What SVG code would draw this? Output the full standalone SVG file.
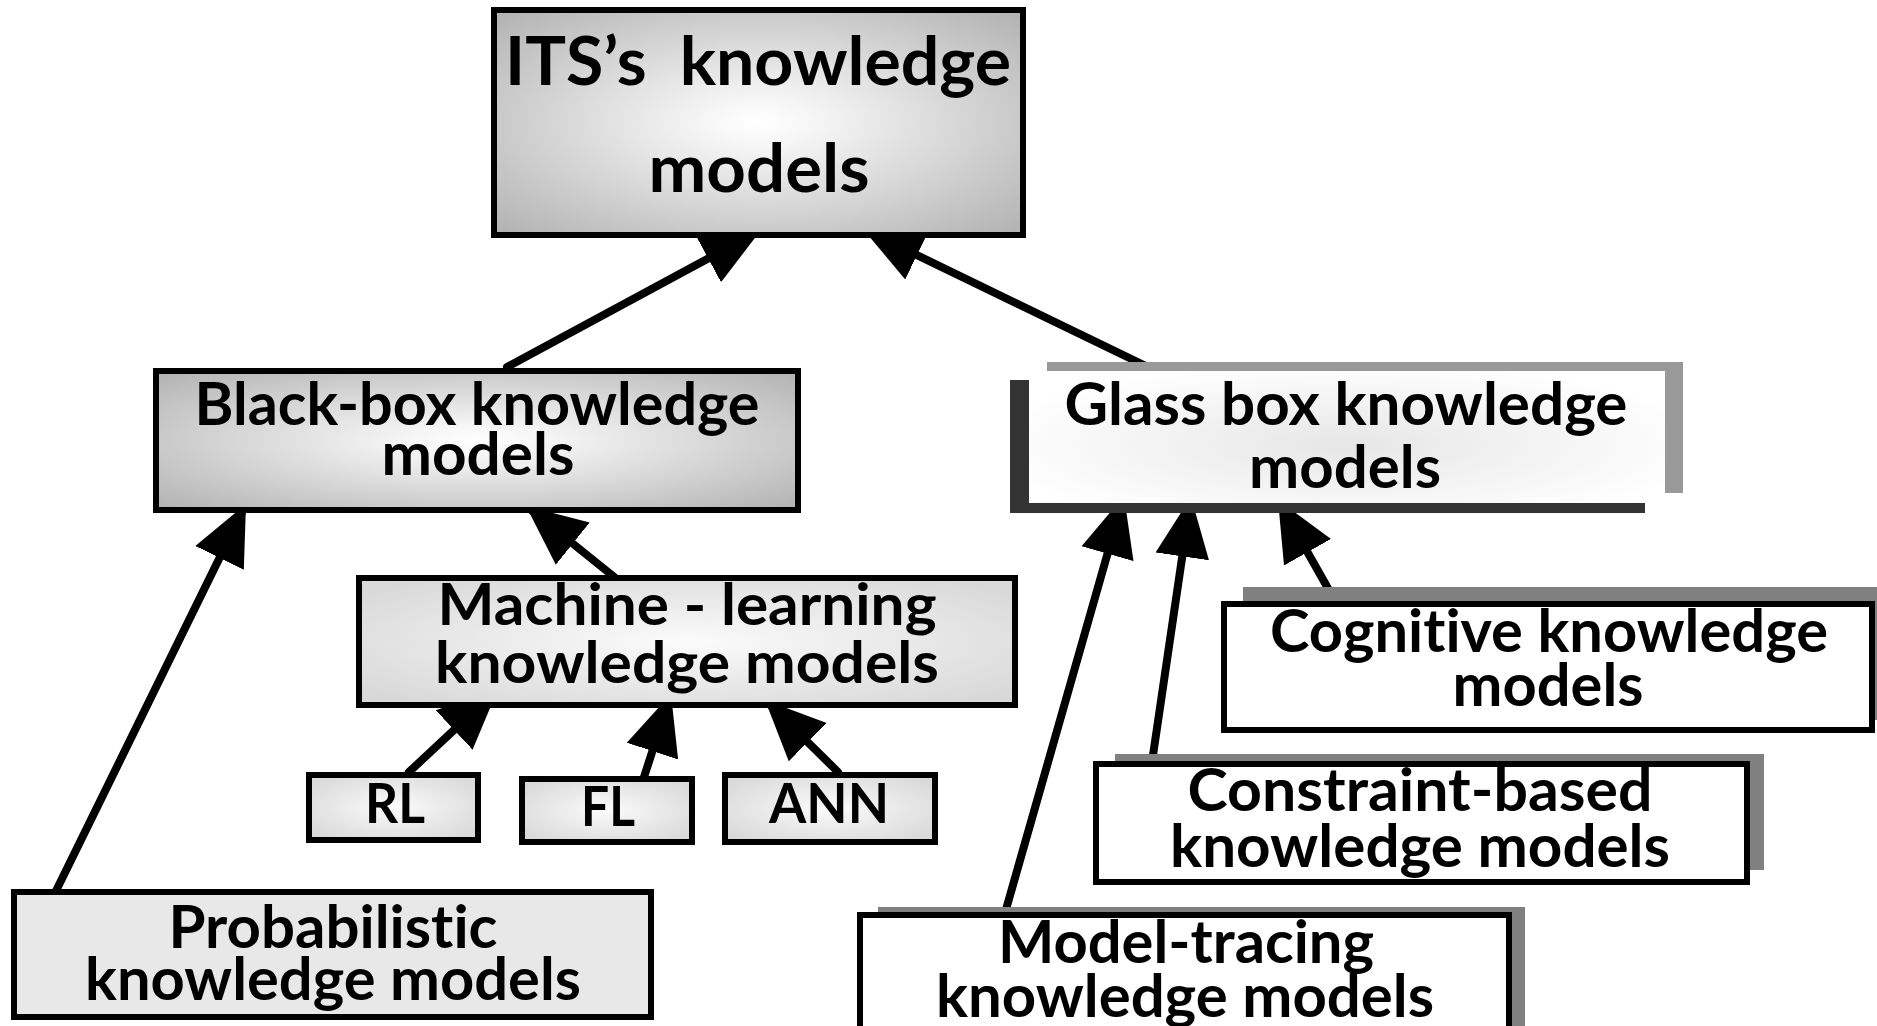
<svg xmlns="http://www.w3.org/2000/svg" width="1877" height="1026" viewBox="0 0 1877 1026">
  <style>
    .lbl { font-family: Lato, "Open Sans", "Liberation Sans", sans-serif; font-weight: 700; fill: #000; text-anchor: middle; font-variant-ligatures: none; font-feature-settings: "liga" 0, "clig" 0, "dlig" 0; }
    .box { stroke: #000; stroke-width: 6; }
    .conn { stroke: #000; stroke-width: 8; stroke-linecap: round; fill: none; marker-end: url(#head); }
    .shadow { fill: #808080; }
  </style>
  <defs>
    <marker id="head" markerUnits="userSpaceOnUse" markerWidth="62" markerHeight="56" viewBox="0 -28 62 56" refX="60" refY="0" orient="auto">
      <path d="M0,-27 L60,0 L0,27 Z" fill="#000"/>
    </marker>
    <radialGradient id="gradDark" cx="50%" cy="50%" r="68%">
      <stop offset="0" stop-color="#ffffff"/>
      <stop offset="0.15" stop-color="#f6f6f6"/>
      <stop offset="1" stop-color="#b4b4b4"/>
    </radialGradient>
    <radialGradient id="gradLight" cx="50%" cy="50%" r="62%">
      <stop offset="0" stop-color="#fbfbfb"/>
      <stop offset="1" stop-color="#d9d9d9"/>
    </radialGradient>
    <radialGradient id="gradGlass" cx="50%" cy="55%" r="55%">
      <stop offset="0" stop-color="#e6e6e6"/>
      <stop offset="1" stop-color="#ffffff"/>
    </radialGradient>
  </defs>

  <rect width="1877" height="1026" fill="#ffffff"/>

  <!-- connectors: drawn first so the boxes cover the arrow tips -->
  <g id="connectors">
    <line class="conn" x1="507" y1="367" x2="761" y2="230"/>
    <line class="conn" x1="1150" y1="368" x2="863" y2="229"/>
    <line class="conn" x1="54" y1="895" x2="246" y2="504"/>
    <line class="conn" x1="618" y1="580" x2="526" y2="506"/>
    <line class="conn" x1="409" y1="772" x2="498" y2="689"/>
    <line class="conn" x1="644" y1="777" x2="671" y2="694"/>
    <line class="conn" x1="838" y1="772" x2="765" y2="700"/>
    <line class="conn" x1="1003" y1="920" x2="1124" y2="496"/>
    <line class="conn" x1="1152" y1="762" x2="1191" y2="497"/>
    <line class="conn" x1="1334" y1="599" x2="1278" y2="500"/>
  </g>

  <g id="its-models">
    <rect class="box" x="494" y="10" width="529" height="225" fill="url(#gradDark)"/>
    <text class="lbl" x="758" y="85" font-size="67" textLength="506" lengthAdjust="spacingAndGlyphs" xml:space="preserve">ITS’s  knowledge</text>
    <text class="lbl" x="759" y="192" font-size="67" textLength="221" lengthAdjust="spacingAndGlyphs">models</text>
  </g>

  <g id="black-box">
    <rect class="box" x="156" y="371" width="642" height="139" fill="url(#gradDark)"/>
    <text class="lbl" x="477" y="425" font-size="59" textLength="565" lengthAdjust="spacingAndGlyphs">Black-box knowledge</text>
    <text class="lbl" x="478" y="475" font-size="59" textLength="193" lengthAdjust="spacingAndGlyphs">models</text>
  </g>

  <g id="glass-box">
    <rect x="1010" y="362" width="673" height="151" fill="url(#gradGlass)"/>
    <rect x="1047" y="362" width="636" height="9" fill="#999999"/>
    <rect x="1665" y="362" width="18" height="131" fill="#999999"/>
    <rect x="1010" y="380" width="19" height="133" fill="#333333"/>
    <rect x="1010" y="503" width="635" height="10" fill="#333333"/>
    <text class="lbl" x="1346" y="425" font-size="59" textLength="563" lengthAdjust="spacingAndGlyphs">Glass box knowledge</text>
    <text class="lbl" x="1345" y="488" font-size="59" textLength="192" lengthAdjust="spacingAndGlyphs">models</text>
  </g>

  <g id="machine-learning">
    <rect class="box" x="359" y="578" width="656" height="127" fill="url(#gradLight)"/>
    <text class="lbl" x="687" y="625" font-size="58" textLength="499" lengthAdjust="spacingAndGlyphs">Machine - learning</text>
    <text class="lbl" x="687" y="683" font-size="58" textLength="504" lengthAdjust="spacingAndGlyphs">knowledge models</text>
  </g>

  <g id="rl">
    <rect class="box" x="309" y="775" width="169" height="65" fill="url(#gradLight)"/>
    <text class="lbl" x="395" y="823" font-size="55" textLength="60" lengthAdjust="spacingAndGlyphs">RL</text>
  </g>

  <g id="fl">
    <rect class="box" x="522" y="779" width="170" height="63" fill="url(#gradLight)"/>
    <text class="lbl" x="608" y="826" font-size="55" textLength="54" lengthAdjust="spacingAndGlyphs">FL</text>
  </g>

  <g id="ann">
    <rect class="box" x="725" y="775" width="210" height="67" fill="url(#gradLight)"/>
    <text class="lbl" x="829" y="823" font-size="55" textLength="120" lengthAdjust="spacingAndGlyphs">ANN</text>
  </g>

  <g id="probabilistic">
    <rect class="box" x="14" y="892" width="637" height="125" fill="#e8e8e8"/>
    <text class="lbl" x="333" y="948" font-size="59" textLength="329" lengthAdjust="spacingAndGlyphs">Probabilistic</text>
    <text class="lbl" x="333" y="1000" font-size="59" textLength="496" lengthAdjust="spacingAndGlyphs">knowledge models</text>
  </g>

  <g id="cognitive">
    <rect class="shadow" x="1243" y="587" width="640" height="133"/>
    <rect class="box" x="1224" y="604" width="648" height="126" fill="#ffffff"/>
    <text class="lbl" x="1549" y="652" font-size="59" textLength="558" lengthAdjust="spacingAndGlyphs">Cognitive knowledge</text>
    <text class="lbl" x="1548" y="706" font-size="59" textLength="191" lengthAdjust="spacingAndGlyphs">models</text>
  </g>

  <g id="constraint-based">
    <rect class="shadow" x="1115" y="754" width="649" height="116"/>
    <rect class="box" x="1096" y="764" width="651" height="118" fill="#ffffff"/>
    <text class="lbl" x="1420" y="811" font-size="59" textLength="465" lengthAdjust="spacingAndGlyphs">Constraint-based</text>
    <text class="lbl" x="1420" y="867" font-size="59" textLength="500" lengthAdjust="spacingAndGlyphs">knowledge models</text>
  </g>

  <g id="model-tracing">
    <rect class="shadow" x="878" y="907" width="647" height="140"/>
    <rect class="box" x="860" y="915" width="649" height="140" fill="#ffffff"/>
    <text class="lbl" x="1186" y="963" font-size="59" textLength="376" lengthAdjust="spacingAndGlyphs">Model-tracing</text>
    <text class="lbl" x="1185" y="1017" font-size="59" textLength="498" lengthAdjust="spacingAndGlyphs">knowledge models</text>
  </g>
</svg>
